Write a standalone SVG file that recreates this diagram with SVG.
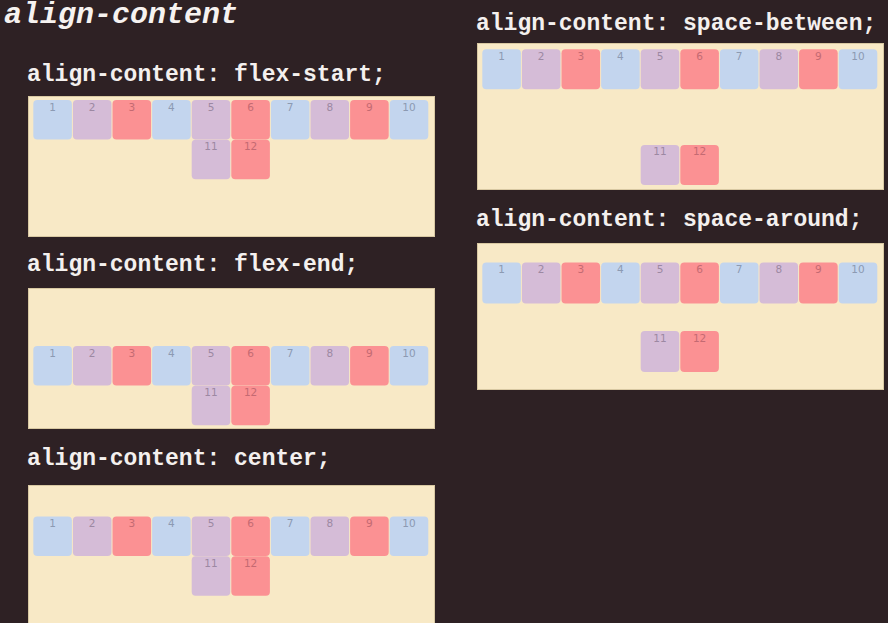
<svg xmlns="http://www.w3.org/2000/svg" width="888" height="623" viewBox="0 0 888 623">
<style>
.bg{fill:#2e2124}
.title{font-family:"Liberation Mono","Courier New",monospace;font-weight:bold;font-style:italic;font-size:30px;fill:#f6f2f0}
.lbl{font-family:"Liberation Mono","Courier New",monospace;font-weight:bold;font-size:23px;fill:#f4f0ee}
.panel{fill:#f8e9c6;stroke:#d8c8a2;stroke-width:1}
.b{fill:#c3d5ee}
.p{fill:#d5bcd7}
.r{fill:#fb9193}
.n{font-family:"DejaVu Sans","Liberation Sans",sans-serif;font-size:10.5px;text-anchor:middle}
.nb{fill:#8c9ab2}
.np{fill:#9c88a2}
.nr{fill:#c46a72}
</style>
<rect class="bg" x="0" y="0" width="888" height="623"/>
<text class="title" x="4" y="23">align-content</text>

<g id="flex-start">
<text class="lbl" x="27" y="81">align-content: flex-start;</text>
<rect class="panel" x="28.5" y="96.5" width="406" height="140"/>
<g transform="translate(33.3,100)">
<rect class="b" x="0" y="0" width="38.6" height="39.5" rx="4"/><text class="n nb" x="19.3" y="10.5">1</text>
<rect class="p" x="39.6" y="0" width="38.6" height="39.5" rx="4"/><text class="n np" x="58.9" y="10.5">2</text>
<rect class="r" x="79.2" y="0" width="38.6" height="39.5" rx="4"/><text class="n nr" x="98.5" y="10.5">3</text>
<rect class="b" x="118.8" y="0" width="38.6" height="39.5" rx="4"/><text class="n nb" x="138.1" y="10.5">4</text>
<rect class="p" x="158.4" y="0" width="38.6" height="39.5" rx="4"/><text class="n np" x="177.7" y="10.5">5</text>
<rect class="r" x="198" y="0" width="38.6" height="39.5" rx="4"/><text class="n nr" x="217.3" y="10.5">6</text>
<rect class="b" x="237.6" y="0" width="38.6" height="39.5" rx="4"/><text class="n nb" x="256.9" y="10.5">7</text>
<rect class="p" x="277.2" y="0" width="38.6" height="39.5" rx="4"/><text class="n np" x="296.5" y="10.5">8</text>
<rect class="r" x="316.8" y="0" width="38.6" height="39.5" rx="4"/><text class="n nr" x="336.1" y="10.5">9</text>
<rect class="b" x="356.4" y="0" width="38.6" height="39.5" rx="4"/><text class="n nb" x="375.7" y="10.5">10</text>
<rect class="p" x="158.4" y="39.7" width="38.6" height="39.5" rx="4"/><text class="n np" x="177.7" y="50.2">11</text>
<rect class="r" x="198" y="39.7" width="38.6" height="39.5" rx="4"/><text class="n nr" x="217.3" y="50.2">12</text>
</g>
</g>

<g id="flex-end">
<text class="lbl" x="27" y="271">align-content: flex-end;</text>
<rect class="panel" x="28.5" y="288.5" width="406" height="140"/>
<g transform="translate(33.3,346)">
<rect class="b" x="0" y="0" width="38.6" height="39.5" rx="4"/><text class="n nb" x="19.3" y="10.5">1</text>
<rect class="p" x="39.6" y="0" width="38.6" height="39.5" rx="4"/><text class="n np" x="58.9" y="10.5">2</text>
<rect class="r" x="79.2" y="0" width="38.6" height="39.5" rx="4"/><text class="n nr" x="98.5" y="10.5">3</text>
<rect class="b" x="118.8" y="0" width="38.6" height="39.5" rx="4"/><text class="n nb" x="138.1" y="10.5">4</text>
<rect class="p" x="158.4" y="0" width="38.6" height="39.5" rx="4"/><text class="n np" x="177.7" y="10.5">5</text>
<rect class="r" x="198" y="0" width="38.6" height="39.5" rx="4"/><text class="n nr" x="217.3" y="10.5">6</text>
<rect class="b" x="237.6" y="0" width="38.6" height="39.5" rx="4"/><text class="n nb" x="256.9" y="10.5">7</text>
<rect class="p" x="277.2" y="0" width="38.6" height="39.5" rx="4"/><text class="n np" x="296.5" y="10.5">8</text>
<rect class="r" x="316.8" y="0" width="38.6" height="39.5" rx="4"/><text class="n nr" x="336.1" y="10.5">9</text>
<rect class="b" x="356.4" y="0" width="38.6" height="39.5" rx="4"/><text class="n nb" x="375.7" y="10.5">10</text>
<rect class="p" x="158.4" y="39.7" width="38.6" height="39.5" rx="4"/><text class="n np" x="177.7" y="50.2">11</text>
<rect class="r" x="198" y="39.7" width="38.6" height="39.5" rx="4"/><text class="n nr" x="217.3" y="50.2">12</text>
</g>
</g>

<g id="center">
<text class="lbl" x="27" y="465">align-content: center;</text>
<rect class="panel" x="28.5" y="485.5" width="406" height="140"/>
<g transform="translate(33.3,516.5)">
<rect class="b" x="0" y="0" width="38.6" height="39.5" rx="4"/><text class="n nb" x="19.3" y="10.5">1</text>
<rect class="p" x="39.6" y="0" width="38.6" height="39.5" rx="4"/><text class="n np" x="58.9" y="10.5">2</text>
<rect class="r" x="79.2" y="0" width="38.6" height="39.5" rx="4"/><text class="n nr" x="98.5" y="10.5">3</text>
<rect class="b" x="118.8" y="0" width="38.6" height="39.5" rx="4"/><text class="n nb" x="138.1" y="10.5">4</text>
<rect class="p" x="158.4" y="0" width="38.6" height="39.5" rx="4"/><text class="n np" x="177.7" y="10.5">5</text>
<rect class="r" x="198" y="0" width="38.6" height="39.5" rx="4"/><text class="n nr" x="217.3" y="10.5">6</text>
<rect class="b" x="237.6" y="0" width="38.6" height="39.5" rx="4"/><text class="n nb" x="256.9" y="10.5">7</text>
<rect class="p" x="277.2" y="0" width="38.6" height="39.5" rx="4"/><text class="n np" x="296.5" y="10.5">8</text>
<rect class="r" x="316.8" y="0" width="38.6" height="39.5" rx="4"/><text class="n nr" x="336.1" y="10.5">9</text>
<rect class="b" x="356.4" y="0" width="38.6" height="39.5" rx="4"/><text class="n nb" x="375.7" y="10.5">10</text>
<rect class="p" x="158.4" y="39.7" width="38.6" height="39.5" rx="4"/><text class="n np" x="177.7" y="50.2">11</text>
<rect class="r" x="198" y="39.7" width="38.6" height="39.5" rx="4"/><text class="n nr" x="217.3" y="50.2">12</text>
</g>
</g>

<g id="space-between">
<text class="lbl" x="476" y="30">align-content: space-between;</text>
<rect class="panel" x="477.5" y="43.5" width="406" height="146"/>
<g transform="translate(482.3,49.3)">
<rect class="b" x="0" y="0" width="38.6" height="40" rx="4"/><text class="n nb" x="19.3" y="10.5">1</text>
<rect class="p" x="39.6" y="0" width="38.6" height="40" rx="4"/><text class="n np" x="58.9" y="10.5">2</text>
<rect class="r" x="79.2" y="0" width="38.6" height="40" rx="4"/><text class="n nr" x="98.5" y="10.5">3</text>
<rect class="b" x="118.8" y="0" width="38.6" height="40" rx="4"/><text class="n nb" x="138.1" y="10.5">4</text>
<rect class="p" x="158.4" y="0" width="38.6" height="40" rx="4"/><text class="n np" x="177.7" y="10.5">5</text>
<rect class="r" x="198" y="0" width="38.6" height="40" rx="4"/><text class="n nr" x="217.3" y="10.5">6</text>
<rect class="b" x="237.6" y="0" width="38.6" height="40" rx="4"/><text class="n nb" x="256.9" y="10.5">7</text>
<rect class="p" x="277.2" y="0" width="38.6" height="40" rx="4"/><text class="n np" x="296.5" y="10.5">8</text>
<rect class="r" x="316.8" y="0" width="38.6" height="40" rx="4"/><text class="n nr" x="336.1" y="10.5">9</text>
<rect class="b" x="356.4" y="0" width="38.6" height="40" rx="4"/><text class="n nb" x="375.7" y="10.5">10</text>
<rect class="p" x="158.4" y="95.7" width="38.6" height="40" rx="4"/><text class="n np" x="177.7" y="106.2">11</text>
<rect class="r" x="198" y="95.7" width="38.6" height="40" rx="4"/><text class="n nr" x="217.3" y="106.2">12</text>
</g>
</g>

<g id="space-around">
<text class="lbl" x="476" y="226">align-content: space-around;</text>
<rect class="panel" x="477.5" y="243.5" width="406" height="146"/>
<g transform="translate(482.3,262.5)">
<rect class="b" x="0" y="0" width="38.6" height="41" rx="4"/><text class="n nb" x="19.3" y="10.5">1</text>
<rect class="p" x="39.6" y="0" width="38.6" height="41" rx="4"/><text class="n np" x="58.9" y="10.5">2</text>
<rect class="r" x="79.2" y="0" width="38.6" height="41" rx="4"/><text class="n nr" x="98.5" y="10.5">3</text>
<rect class="b" x="118.8" y="0" width="38.6" height="41" rx="4"/><text class="n nb" x="138.1" y="10.5">4</text>
<rect class="p" x="158.4" y="0" width="38.6" height="41" rx="4"/><text class="n np" x="177.7" y="10.5">5</text>
<rect class="r" x="198" y="0" width="38.6" height="41" rx="4"/><text class="n nr" x="217.3" y="10.5">6</text>
<rect class="b" x="237.6" y="0" width="38.6" height="41" rx="4"/><text class="n nb" x="256.9" y="10.5">7</text>
<rect class="p" x="277.2" y="0" width="38.6" height="41" rx="4"/><text class="n np" x="296.5" y="10.5">8</text>
<rect class="r" x="316.8" y="0" width="38.6" height="41" rx="4"/><text class="n nr" x="336.1" y="10.5">9</text>
<rect class="b" x="356.4" y="0" width="38.6" height="41" rx="4"/><text class="n nb" x="375.7" y="10.5">10</text>
<rect class="p" x="158.4" y="68.5" width="38.6" height="41" rx="4"/><text class="n np" x="177.7" y="79">11</text>
<rect class="r" x="198" y="68.5" width="38.6" height="41" rx="4"/><text class="n nr" x="217.3" y="79">12</text>
</g>
</g>
</svg>
